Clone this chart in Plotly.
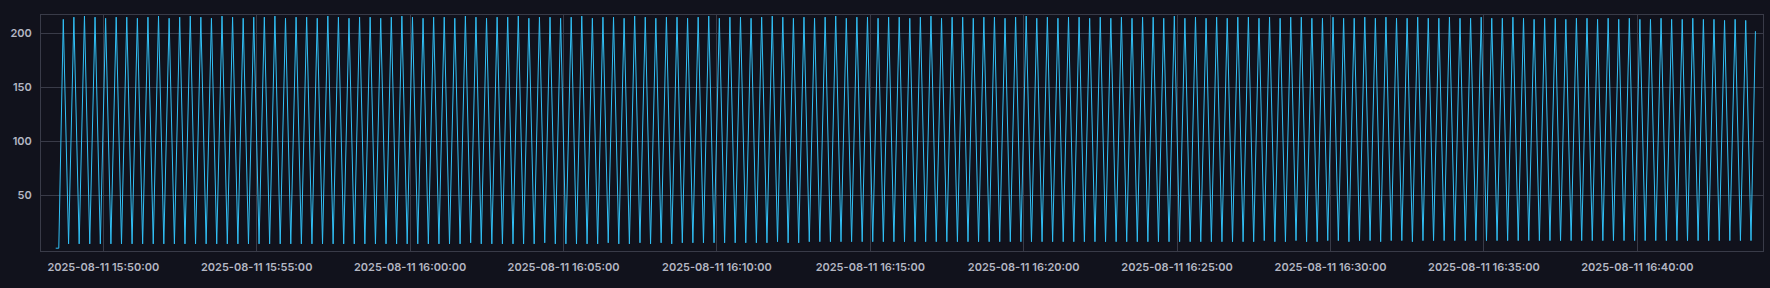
import pandas as pd
import plotly.graph_objects as go

# ---- data ----
lead_times = ["2025-08-11 15:48:27", "2025-08-11 15:48:33"]
lead_values = [1, 1]

first_peak_time = "2025-08-11 15:48:41.8"
cycle_seconds = 20.693

peak_values = [
    213, 215, 216, 215, 214, 215, 215, 214, 215, 216,
    214, 215, 216, 215, 214, 216, 215, 214, 215, 215,
    216, 214, 215, 215, 214, 216, 215, 214, 215, 215,
    214, 215, 216, 215, 214, 215, 215, 214, 216, 215,
    214, 215, 215, 216, 214, 215, 215, 214, 215, 216,
    214, 215, 215, 214, 216, 215, 214, 215, 215, 214,
    215, 216, 214, 215, 215, 214, 215, 216, 215, 214,
    215, 214, 215, 216, 214, 215, 215, 214, 215, 215,
    214, 215, 216, 214, 215, 215, 214, 215, 215, 214,
    215, 216, 214, 215, 214, 215, 215, 214, 215, 214,
    215, 214, 215, 215, 214, 216, 214, 215, 214, 215,
    214, 215, 215, 214, 215, 214, 215, 215, 214, 214,
    215, 214, 214, 215, 214, 215, 214, 214, 215, 214,
    214, 215, 214, 214, 215, 214, 214, 215, 214, 213,
    214, 214, 213, 214, 214, 213, 214, 213, 214, 213,
    213, 214, 213, 213, 214, 213, 213, 212, 213, 212,
]

trough_values = [
    5, 5, 5, 5, 5, 5, 5, 5, 5, 5,
    5, 5, 5, 5, 5, 5, 5, 5, 5, 5,
    5, 5, 5, 5, 5, 5, 5, 5, 5, 5,
    5, 5, 5, 5, 5, 5, 5, 5, 6, 5,
    5, 5, 5, 5, 5, 6, 5, 5, 5, 5,
    5, 6, 5, 5, 6, 5, 6, 5, 6, 6,
    6, 6, 6, 6, 6, 6, 6, 7, 6, 6,
    7, 7, 7, 7, 7, 7, 7, 7, 7, 7,
    7, 7, 7, 7, 7, 7, 7, 7, 7, 7,
    7, 7, 7, 7, 7, 7, 7, 7, 7, 7,
    7, 7, 7, 7, 7, 7, 7, 7, 7, 7,
    7, 7, 7, 8, 7, 7, 8, 7, 7, 8,
    8, 7, 8, 8, 7, 8, 8, 7, 8, 8,
    8, 8, 8, 8, 8, 8, 8, 8, 8, 8,
    8, 8, 8, 8, 8, 8, 8, 8, 8, 8,
    8, 8, 8, 8, 8, 8, 8, 8, 8, 8,
]

tail_time = "2025-08-11 16:43:51"
tail_value = 202

x_tick_labels = [
    "2025-08-11 15:50:00", "2025-08-11 15:55:00", "2025-08-11 16:00:00",
    "2025-08-11 16:05:00", "2025-08-11 16:10:00", "2025-08-11 16:15:00",
    "2025-08-11 16:20:00", "2025-08-11 16:25:00", "2025-08-11 16:30:00",
    "2025-08-11 16:35:00", "2025-08-11 16:40:00",
]
y_tick_values = [50, 100, 150, 200]

x_range = ["2025-08-11 15:47:58.2", "2025-08-11 16:44:05.8"]
y_range = [-1.6, 217]

# ---- build series ----
t0 = pd.Timestamp(first_peak_time)
step = pd.Timedelta(seconds=cycle_seconds)
times = [pd.Timestamp(t) for t in lead_times]
values = list(lead_values)
for i, (pk, tr) in enumerate(zip(peak_values, trough_values)):
    tp = t0 + i * step
    times.append(tp)
    values.append(pk)
    times.append(tp + step / 2)
    values.append(tr)
times.append(pd.Timestamp(tail_time))
values.append(tail_value)

BG = "#11121c"
GRID = "#393b48"
TEXT = "#b4b7c3"
LINE = "#31c0f6"
FONT = dict(family="Inter, Lato, sans-serif", size=11, color=TEXT, weight=600)

fig = go.Figure()
fig.add_trace(go.Scatter(
    x=times, y=values, mode="lines",
    line=dict(color=LINE, width=1),
    hoverinfo="skip", showlegend=False,
))

fig.update_layout(
    width=1770, height=288,
    margin=dict(l=41, r=7, t=15, b=37),
    paper_bgcolor=BG, plot_bgcolor=BG,
    font=FONT,
    showlegend=False,
)
fig.update_xaxes(
    range=x_range,
    tickvals=x_tick_labels, ticktext=x_tick_labels,
    showgrid=True, gridcolor=GRID, gridwidth=1,
    showline=True, linecolor=GRID, linewidth=1, mirror=True,
    zeroline=False, ticks="", tickfont=FONT, ticklabelstandoff=6,
)
fig.update_yaxes(
    range=y_range,
    tickvals=y_tick_values,
    showgrid=True, gridcolor=GRID, gridwidth=1,
    showline=True, linecolor=GRID, linewidth=1, mirror=True,
    zeroline=False, ticks="", tickfont=FONT, ticklabelstandoff=6,
)

fig.write_html("out.html")
